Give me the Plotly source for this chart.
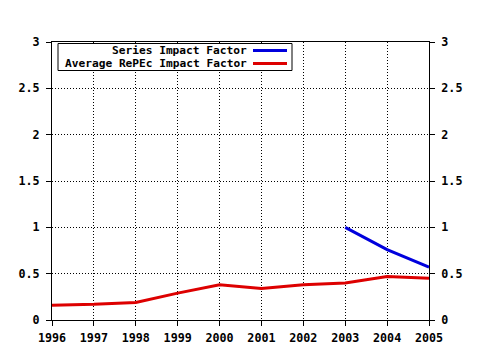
import plotly.graph_objects as go

years = [1996, 1997, 1998, 1999, 2000, 2001, 2002, 2003, 2004, 2005]
avg_repec = [0.16, 0.17, 0.19, 0.29, 0.38, 0.34, 0.38, 0.40, 0.47, 0.45]
series_years = [2003, 2004, 2005]
series_if = [1.0, 0.76, 0.57]
y_ticks = [0, 0.5, 1, 1.5, 2, 2.5, 3]
y_labels = ["0", "0.5", "1", "1.5", "2", "2.5", "3"]
legend_names = ["Series Impact Factor", "Average RePEc Impact Factor"]
colors = ["#0000dd", "#dd0000"]

W, H = 480, 350
L, R, T, B = 52, 51, 42, 30
pw, ph = W - L - R, H - T - B

def px(x):
    return (x - L) / pw

def py(y):
    return (H - B - y) / ph

fnt = dict(family="DejaVu Sans Mono", size=11.7, color="black", weight="bold")
leg_fnt = dict(family="DejaVu Sans Mono", size=11.2, color="black", weight="bold")

fig = go.Figure()
fig.add_trace(go.Scatter(x=years, y=avg_repec, mode="lines",
                         line=dict(color=colors[1], width=3), showlegend=False))
fig.add_trace(go.Scatter(x=series_years, y=series_if, mode="lines",
                         line=dict(color=colors[0], width=3), showlegend=False))
fig.add_trace(go.Scatter(x=years, y=avg_repec, mode="lines", yaxis="y2",
                         line=dict(color="rgba(0,0,0,0)", width=0),
                         hoverinfo="skip", showlegend=False))

axis_common = dict(showline=True, linecolor="black", linewidth=1,
                   ticks="outside", ticklen=5, tickcolor="black",
                   showgrid=True, gridcolor="black", griddash="1px,2px", gridwidth=1,
                   zeroline=False, tickfont=fnt, automargin=False)

fig.update_layout(
    width=W, height=H,
    margin=dict(l=L, r=R, t=T, b=B),
    paper_bgcolor="white", plot_bgcolor="white",
    font=fnt,
    xaxis=dict(range=[1996, 2005], tickvals=years, ticktext=[str(y) for y in years],
               mirror=True, ticklabelstandoff=2, **axis_common),
    yaxis=dict(range=[0, 3], tickvals=y_ticks, ticktext=y_labels, mirror=True,
               ticklabelstandoff=4, **axis_common),
    yaxis2=dict(range=[0, 3], tickvals=y_ticks, ticktext=y_labels, overlaying="y",
                side="right", showline=True, linecolor="black", ticks="outside",
                ticklen=5, tickcolor="black", showgrid=False, zeroline=False,
                tickfont=fnt, ticklabelstandoff=4, automargin=False),
)

# legend box drawn manually
fig.add_shape(type="rect", xref="paper", yref="paper",
              x0=px(58), x1=px(292), y0=py(70.5), y1=py(43.5),
              line=dict(color="black", width=1), fillcolor="white", layer="above")
rows_y = [50.5, 63.5]
for name, col, ry in zip(legend_names, colors, rows_y):
    fig.add_annotation(xref="paper", yref="paper", x=px(248), y=py(ry),
                       text=name, showarrow=False, xanchor="right", yanchor="middle",
                       borderpad=0, font=leg_fnt)
    fig.add_shape(type="line", xref="paper", yref="paper",
                  x0=px(253), x1=px(287), y0=py(ry), y1=py(ry),
                  line=dict(color=col, width=3), layer="above")

fig.write_html("out.html")
